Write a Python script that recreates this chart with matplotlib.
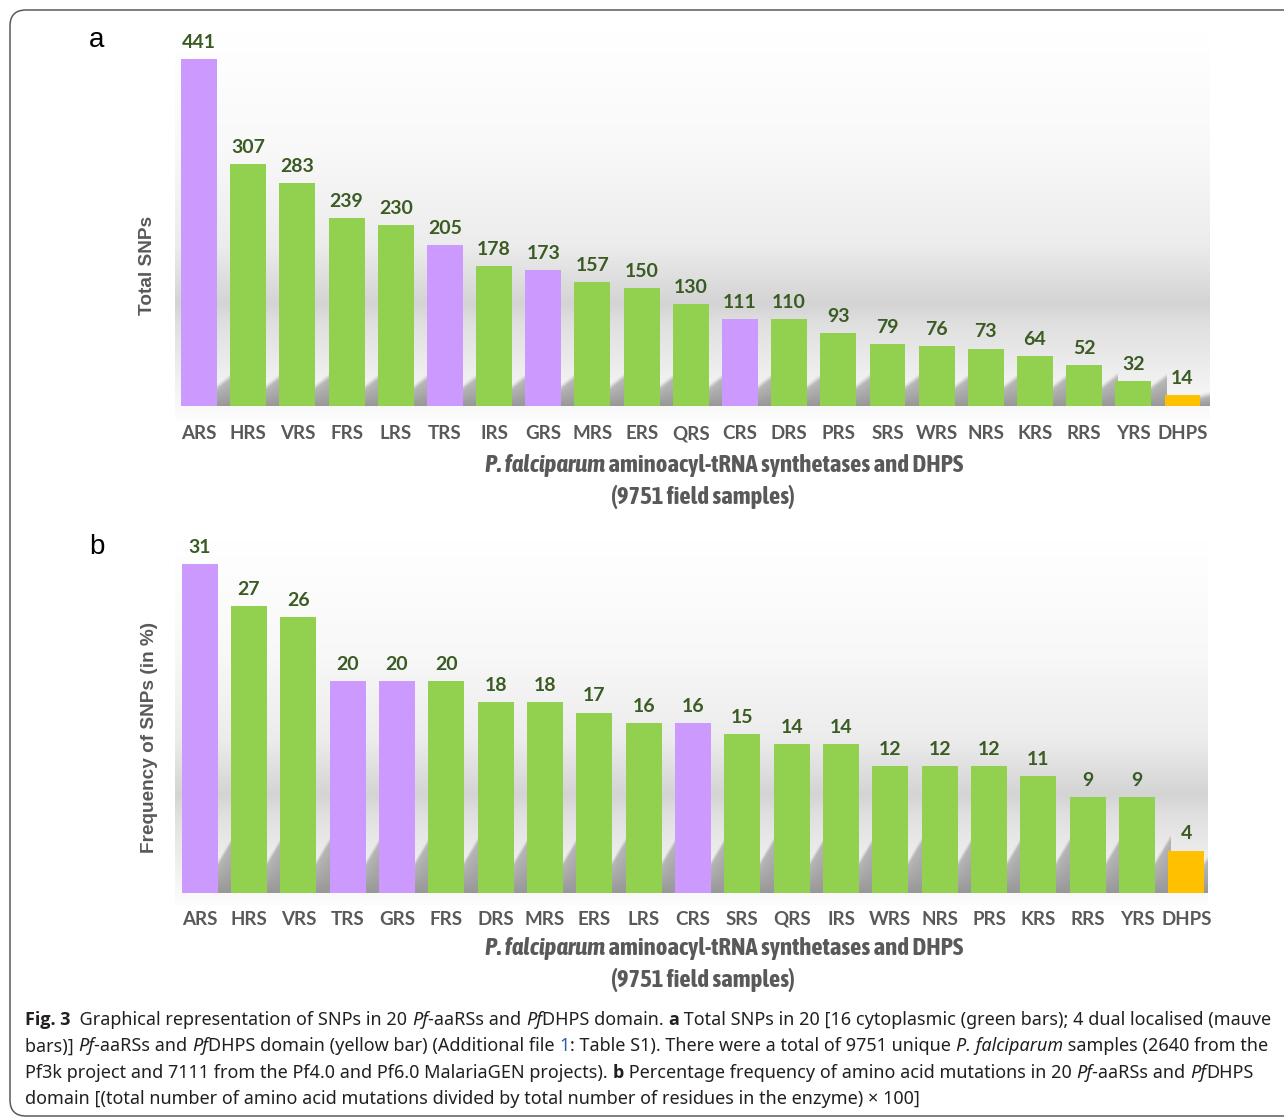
import numpy as np
import matplotlib
matplotlib.use("Agg")
import matplotlib.pyplot as plt
import matplotlib.transforms as mtransforms
from matplotlib import font_manager as fm
from matplotlib.patches import FancyBboxPatch
from matplotlib.colors import LinearSegmentedColormap

# ---------------------------------------------------------------- data
genes_total = ["ARS", "HRS", "VRS", "FRS", "LRS", "TRS", "IRS", "GRS", "MRS", "ERS",
               "QRS", "CRS", "DRS", "PRS", "SRS", "WRS", "NRS", "KRS", "RRS", "YRS", "DHPS"]
total_snps = [441, 307, 283, 239, 230, 205, 178, 173, 157, 150,
              130, 111, 110, 93, 79, 76, 73, 64, 52, 32, 14]

genes_freq = ["ARS", "HRS", "VRS", "TRS", "GRS", "FRS", "DRS", "MRS", "ERS", "LRS",
              "CRS", "SRS", "QRS", "IRS", "WRS", "NRS", "PRS", "KRS", "RRS", "YRS", "DHPS"]
freq_snps = [31, 27, 26, 20, 20, 20, 18, 18, 17, 16,
             16, 15, 14, 14, 12, 12, 12, 11, 9, 9, 4]

dual_localised = ["ARS", "TRS", "GRS", "CRS"]
domain_genes = ["DHPS"]

COL_CYTO = "#92d050"
COL_DUAL = "#cc99ff"
COL_DHPS = "#ffc000"
COL_VALUE = "#3a5b22"
COL_TICK = "#595959"


# ---------------------------------------------------------------- fonts
def _weight(f):
    w = f.weight
    if isinstance(w, str):
        w = fm.weight_dict.get(w, 400)
    return int(w)


def bold_family(candidates):
    for fam in candidates:
        if any(f.name == fam and _weight(f) >= 600 for f in fm.fontManager.ttflist):
            return fam
    return "DejaVu Sans"


def narrow_family():
    names = sorted({f.name for f in fm.fontManager.ttflist
                    if ("Narrow" in f.name or "Condensed" in f.name) and _weight(f) >= 600})
    for pref in ("Liberation Sans Narrow", "Arial Narrow"):
        if pref in names:
            return pref
    return names[0] if names else "Liberation Sans"


LABEL_FONT = bold_family(["Lato", "Open Sans", "Noto Sans", "Roboto", "Liberation Sans"])
CAPTION_BOLD = bold_family(["Noto Sans", "Open Sans", "Lato", "Roboto", "Liberation Sans"])
TITLE_FONT = narrow_family()

W, H, DPI = 1284, 1119, 100
fig = plt.figure(figsize=(W / DPI, H / DPI), dpi=DPI)
fig.patch.set_facecolor("white")
renderer = fig.canvas.get_renderer()


def px_axes(left, top, right, bottom):
    """Axes placed by pixel edges (origin top-left)."""
    return fig.add_axes([left / W, 1 - bottom / H, (right - left) / W, (bottom - top) / H])


def bar_color(g):
    if g in domain_genes:
        return COL_DHPS
    if g in dual_localised:
        return COL_DUAL
    return COL_CYTO


# backdrop: white at the top, grey band low down, fading out at the floor
bg_cmap = LinearSegmentedColormap.from_list(
    "wall",
    [(0.00, (1.00, 1.00, 1.00)),
     (0.30, (0.975, 0.975, 0.975)),
     (0.55, (0.925, 0.925, 0.925)),
     (0.70, (0.83, 0.83, 0.83)),
     (0.75, (0.875, 0.875, 0.875)),
     (0.90, (0.945, 0.945, 0.945)),
     (0.965, (0.975, 0.975, 0.975)),
     (1.00, (0.99, 0.99, 0.99))])


def smoothstep(t):
    t = np.clip(t, 0, 1)
    return t * t * (3 - 2 * t)


def draw_panel(ax, genes, values, xlim, ylim, tick_pad, sh_left_px, sh_right_px):
    x = np.arange(len(genes))
    ax.set_xlim(*xlim)
    ax.set_ylim(*ylim)
    ax.set_facecolor("none")

    grad = np.linspace(0, 1, 256).reshape(-1, 1)
    ax.imshow(grad, cmap=bg_cmap, extent=(0, 1, 0, 1), transform=ax.transAxes,
              aspect="auto", zorder=0, interpolation="bicubic", origin="upper")

    width = 0.73
    gap = 1 - width
    # soft shadow falling into the gap to the right of each bar
    to_px = ax.transData
    px_per_y = to_px.transform((0, 1))[1] - to_px.transform((0, 0))[1]
    soft_px = 7.0
    for xi, v in zip(x, values):
        bar_px = v * px_per_y
        hl = min(sh_left_px, 0.8 * bar_px)
        hr = min(sh_right_px, 1.1 * bar_px)
        x0 = xi + width / 2 - 0.02
        x1 = xi + width / 2 + gap + 0.05
        ytop_px = hr + soft_px
        gx = np.linspace(0, 1, 60)
        gy = np.linspace(0, ytop_px, 80)
        X, Y = np.meshgrid(gx, gy)
        top = hl + (hr - hl) * np.clip(X * (x1 - x0) / gap, 0, 1.3)
        alpha = smoothstep((top - Y) / soft_px + 0.5) * 0.8 * (1 - 0.4 * Y / np.maximum(top, 1))
        rgba = np.zeros(alpha.shape + (4,))
        rgba[..., :3] = 0.5
        rgba[..., 3] = np.clip(alpha, 0, 1)
        ax.imshow(rgba, origin="lower", extent=(x0, x1, 0, ytop_px / px_per_y),
                  aspect="auto", zorder=1, interpolation="bilinear")

    ax.bar(x, values, width=width, color=[bar_color(g) for g in genes],
           zorder=2, linewidth=0)
    for xi, v in zip(x, values):
        ax.annotate(f"{v}", (xi, v), xytext=(0, 8), textcoords="offset points",
                    ha="center", va="baseline", fontsize=14, fontweight="bold",
                    family=LABEL_FONT, color=COL_VALUE, zorder=3)

    ax.set_xlim(*xlim)
    ax.set_ylim(*ylim)
    ax.set_xticks(x)
    ax.set_xticklabels(genes, fontsize=13.5, fontweight="bold", family=LABEL_FONT,
                       color=COL_TICK)
    plt.setp(ax.get_xticklabels(), va="baseline")
    ax.tick_params(axis="x", length=0, pad=tick_pad)
    ax.set_yticks([])
    for s in ax.spines.values():
        s.set_visible(False)


ax_a = px_axes(175, 33, 1210, 420)
draw_panel(ax_a, genes_total, total_snps, (-0.49, 20.56), (-17.8, 474.0), 13.7, 18, 28)

ax_b = px_axes(175, 540, 1208, 905)
draw_panel(ax_b, genes_freq, freq_snps, (-0.50, 20.44), (-1.13, 33.26), 14.2, 28, 50)


def ftext(x, y, s, **kw):
    return fig.text(x / W, 1 - y / H, s, **kw)


def run_width(s, **kw):
    t = fig.text(0, 0, "|" + s + "|", **kw)
    w1 = t.get_window_extent(renderer).width
    t.remove()
    t = fig.text(0, 0, "||", **kw)
    w0 = t.get_window_extent(renderer).width
    t.remove()
    return w1 - w0


def draw_runs(x0, y, runs, ha="left", **base):
    widths = [run_width(s, **{**base, **st}) for s, st in runs]
    total = sum(widths)
    x = x0 - (total / 2 if ha == "center" else 0)
    for (s, st), w in zip(runs, widths):
        ftext(x, y, s, ha="left", va="center", **{**base, **st})
        x += w
    return total


# axis titles below each panel
title_runs = [("P. falciparum", dict(style="italic")),
              (" aminoacyl-tRNA synthetases and DHPS", {})]
title_kw = dict(family=[TITLE_FONT, "Liberation Sans"], fontweight="bold", color=COL_TICK)
probe = sum(run_width(s, fontsize=16, **title_kw, **st) for s, st in title_runs)
title_size = min(16 * 478 / probe, 18.0)
for y1, y2 in [(465, 497), (948, 980)]:
    draw_runs(724, y1, title_runs, ha="center", fontsize=title_size, **title_kw)
    ftext(703, y2, "(9751 field samples)", ha="center", va="center",
          fontsize=title_size, **title_kw)

ylab_kw = dict(family="Liberation Sans", fontsize=13.7, fontweight="bold",
               color=COL_TICK, rotation=90, ha="center", va="center")
ftext(148, 265, "Total SNPs", **ylab_kw)
ftext(150, 737, "Frequency of SNPs (in %)", **ylab_kw)

ftext(97, 40, "a", family="Liberation Sans", fontsize=20, ha="center", va="center")
ftext(97, 547, "b", family="Liberation Sans", fontsize=20, ha="center", va="center")

# caption
REG = {}
BOLD = dict(fontweight="bold", family=CAPTION_BOLD)
IT = dict(style="italic")
BLUE = dict(color="#2a5db0")
caption_lines = [
    [("Fig. 3", BOLD), ("  Graphical representation of SNPs in 20 ", REG), ("Pf", IT),
     ("-aaRSs and ", REG), ("Pf", IT), ("DHPS domain. ", REG), ("a", BOLD),
     (" Total SNPs in 20 [16 cytoplasmic (green bars); 4 dual localised (mauve", REG)],
    [("bars)] ", REG), ("Pf", IT), ("-aaRSs and ", REG), ("Pf", IT),
     ("DHPS domain (yellow bar) (Additional file ", REG), ("1", BLUE),
     (": Table S1). There were a total of 9751 unique ", REG), ("P. falciparum", IT),
     (" samples (2640 from the", REG)],
    [("Pf3k project and 7111 from the Pf4.0 and Pf6.0 MalariaGEN projects). ", REG),
     ("b", BOLD), (" Percentage frequency of amino acid mutations in 20 ", REG),
     ("Pf", IT), ("-aaRSs and ", REG), ("Pf", IT), ("DHPS", REG)],
    [("domain [(total number of amino acid mutations divided by total number of "
      "residues in the enzyme) \u00d7 100]", REG)],
]
cap_kw = dict(family="Noto Sans", color="#231f20")
probe = sum(run_width(s, **{**cap_kw, "fontsize": 12, **st}) for s, st in caption_lines[0])
cap_size = 12 * 1245 / probe
for i, line in enumerate(caption_lines):
    draw_runs(25, 1020 + 26.3 * i, line, fontsize=cap_size, **cap_kw)

# rounded frame around the whole figure
frame = FancyBboxPatch((10, 3), 1500, 1106, boxstyle="round,pad=0,rounding_size=16",
                       transform=mtransforms.IdentityTransform(), fill=False,
                       ec="#5a5a5a", lw=1.1)
fig.add_artist(frame)

fig.savefig("out.png", dpi=DPI)
